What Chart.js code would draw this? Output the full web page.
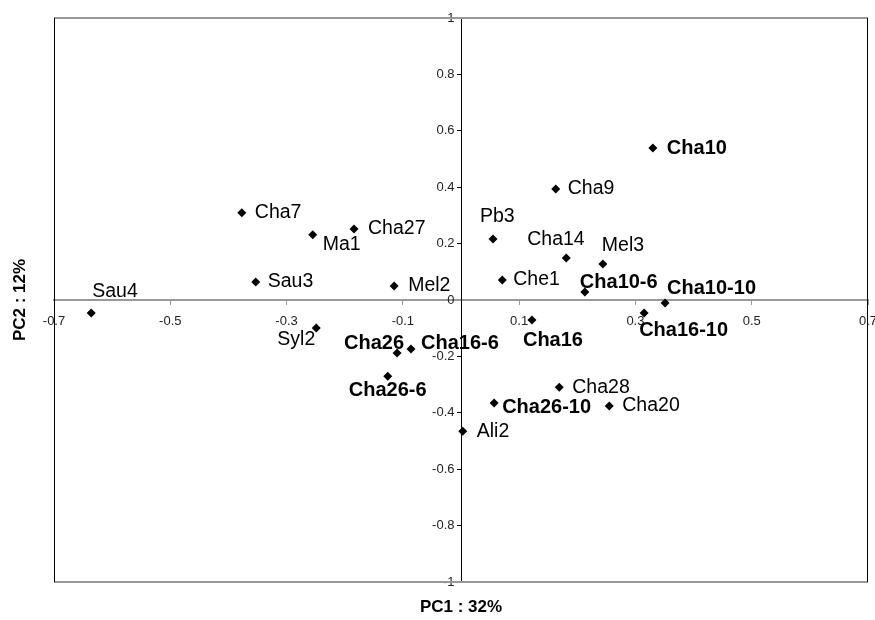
<!DOCTYPE html>
<html>
<head>
<meta charset="utf-8">
<script src="https://cdn.jsdelivr.net/npm/chart.js@4"></script>
<style>
  body { margin: 0; background: #fff; }
  canvas { display: block; }
</style>
</head>
<body>
<canvas id="pca-chart" width="875" height="620"></canvas>
<script>
// samples and their scores on the first two components
const names = ['Sau4', 'Sau3', 'Cha7', 'Ma1', 'Cha27', 'Mel2', 'Syl2', 'Cha26', 'Cha16-6', 'Cha26-6',
    'Pb3', 'Che1', 'Cha14', 'Mel3', 'Cha9', 'Cha10', 'Cha10-6', 'Cha10-10', 'Cha16-10', 'Cha16',
    'Cha28', 'Cha20', 'Cha26-10', 'Ali2'];
const pc1 = [-0.636, -0.353, -0.377, -0.255, -0.184, -0.115, -0.249, -0.110, -0.086, -0.126,
    0.055, 0.071, 0.181, 0.244, 0.163, 0.330, 0.213, 0.351, 0.315, 0.122,
    0.169, 0.255, 0.057, 0.003];
const pc2 = [-0.046, 0.064, 0.309, 0.231, 0.252, 0.050, -0.099, -0.188, -0.174, -0.270,
    0.216, 0.071, 0.149, 0.128, 0.394, 0.539, 0.028, -0.011, -0.046, -0.071,
    -0.309, -0.376, -0.365, -0.465];
const boldNames = ['Cha10', 'Cha10-6', 'Cha10-10', 'Cha16', 'Cha16-6', 'Cha16-10', 'Cha26', 'Cha26-6', 'Cha26-10'];

const xTicks = [-0.7, -0.5, -0.3, -0.1, 0.1, 0.3, 0.5, 0.7];
const xTickLabels = ['-0.7', '-0.5', '-0.3', '-0.1', '0.1', '0.3', '0.5', '0.7'];
const yTicks = [-1, -0.8, -0.6, -0.4, -0.2, 0, 0.2, 0.4, 0.6, 0.8, 1];
const yTickLabels = ['-1', '-0.8', '-0.6', '-0.4', '-0.2', '0', '0.2', '0.4', '0.6', '0.8', '1'];

const xTitle = 'PC1 : 32%';
const yTitle = 'PC2 : 12%';

// where each label sits relative to its marker: [dx, dy, align]
const labelPlace = {
    'Sau4': [1, -21, 'left'], 'Sau3': [12, 0, 'left'], 'Cha7': [13, 0, 'left'],
    'Ma1': [10, 10, 'left'], 'Cha27': [14, 0, 'left'], 'Mel2': [14, 0, 'left'],
    'Syl2': [-1, 12, 'right'], 'Cha26': [7, -10, 'right'], 'Cha16-6': [10, -6, 'left'],
    'Cha26-6': [0, 14, 'center'], 'Pb3': [-13, -22, 'left'], 'Che1': [11, 0, 'left'],
    'Cha14': [-39, -18, 'left'], 'Mel3': [-1, -18, 'left'], 'Cha9': [12, 0, 'left'],
    'Cha10': [14, 0, 'left'], 'Cha10-6': [-5, -10, 'left'], 'Cha10-10': [2, -15, 'left'],
    'Cha16-10': [-5, 18, 'left'], 'Cha16': [-9, 20, 'left'], 'Cha28': [13, 0, 'left'],
    'Cha20': [13, 0, 'left'], 'Cha26-10': [8, 5, 'left'], 'Ali2': [14, 0, 'left']
};

const FONT = "'Liberation Sans', Arial, sans-serif";

const points = names.map((n, i) => ({ x: pc1[i], y: pc2[i] }));

const framePlugin = {
    id: 'frame',
    beforeDatasetsDraw(chart) {
        const { ctx, chartArea: a } = chart;
        ctx.save();
        ctx.strokeStyle = '#999';
        ctx.lineWidth = 2;
        ctx.beginPath();
        ctx.moveTo(a.left, a.top); ctx.lineTo(a.right, a.top);
        ctx.moveTo(a.left, a.bottom); ctx.lineTo(a.right, a.bottom);
        ctx.stroke();
        ctx.strokeStyle = '#000';
        ctx.lineWidth = 1;
        ctx.beginPath();
        ctx.moveTo(a.left + 0.5, a.top); ctx.lineTo(a.left + 0.5, a.bottom);
        ctx.moveTo(a.right - 0.5, a.top); ctx.lineTo(a.right - 0.5, a.bottom);
        ctx.stroke();

        // axis titles
        ctx.fillStyle = '#000';
        ctx.font = 'bold 17px ' + FONT;
        ctx.textAlign = 'center';
        ctx.textBaseline = 'middle';
        ctx.fillText(xTitle, chart.scales.x.getPixelForValue(0), 607);
        ctx.translate(20, chart.scales.y.getPixelForValue(0));
        ctx.rotate(-Math.PI / 2);
        ctx.fillText(yTitle, 0, 0);
        ctx.restore();
    }
};

const labelPlugin = {
    id: 'pointLabels',
    afterDatasetsDraw(chart) {
        const { ctx } = chart;
        const meta = chart.getDatasetMeta(0);
        ctx.save();
        ctx.fillStyle = '#000';
        ctx.textBaseline = 'middle';
        meta.data.forEach((pt, i) => {
            const name = names[i];
            const p = labelPlace[name];
            const bold = boldNames.includes(name);
            ctx.font = (bold ? 'bold 20px ' : '19.5px ') + FONT;
            ctx.textAlign = p[2];
            ctx.fillText(name, pt.x + p[0], pt.y + p[1]);
        });
        ctx.restore();
    }
};

const config = {
    type: 'scatter',
    data: {
        datasets: [{
            data: points,
            pointStyle: 'rectRot',
            pointRadius: 4.5,
            backgroundColor: '#000',
            borderColor: '#000',
            borderWidth: 0
        }]
    },
    options: {
        responsive: false,
        animation: false,
        layout: { padding: { left: 54, right: 7, top: 18, bottom: 38 } },
        plugins: {
            legend: { display: false },
            tooltip: { enabled: false }
        },
        scales: {
            x: {
                type: 'linear',
                min: -0.7,
                max: 0.7,
                position: { y: 0 },
                afterBuildTicks: (axis) => { axis.ticks = xTicks.map(v => ({ value: v })); },
                afterFit: (axis) => { axis.paddingLeft = 0; axis.paddingRight = 0; },
                ticks: {
                    autoSkip: false,
                    maxRotation: 0,
                    padding: 10,
                    color: '#222',
                    font: { family: FONT, size: 13 },
                    callback: (v, i) => xTickLabels[i]
                },
                grid: { drawOnChartArea: false, drawTicks: true, tickLength: 4, color: '#999' },
                border: { color: '#999', width: 2 }
            },
            y: {
                type: 'linear',
                min: -1,
                max: 1,
                position: { x: 0 },
                afterBuildTicks: (axis) => { axis.ticks = yTicks.map(v => ({ value: v })); },
                afterFit: (axis) => { axis.paddingTop = 0; axis.paddingBottom = 0; },
                ticks: {
                    autoSkip: false,
                    color: '#222',
                    font: { family: FONT, size: 13 },
                    // axis sits inside the plot, so keep the text clear of the line
                    callback: (v, i) => yTickLabels[i] + '\u2002'
                },
                grid: { drawOnChartArea: false, drawTicks: true, tickLength: 4, color: '#000' },
                border: { color: '#000', width: 1 }
            }
        }
    },
    plugins: [framePlugin, labelPlugin]
};

const chart = new Chart(document.getElementById('pca-chart'), config);
</script>
</body>
</html>
